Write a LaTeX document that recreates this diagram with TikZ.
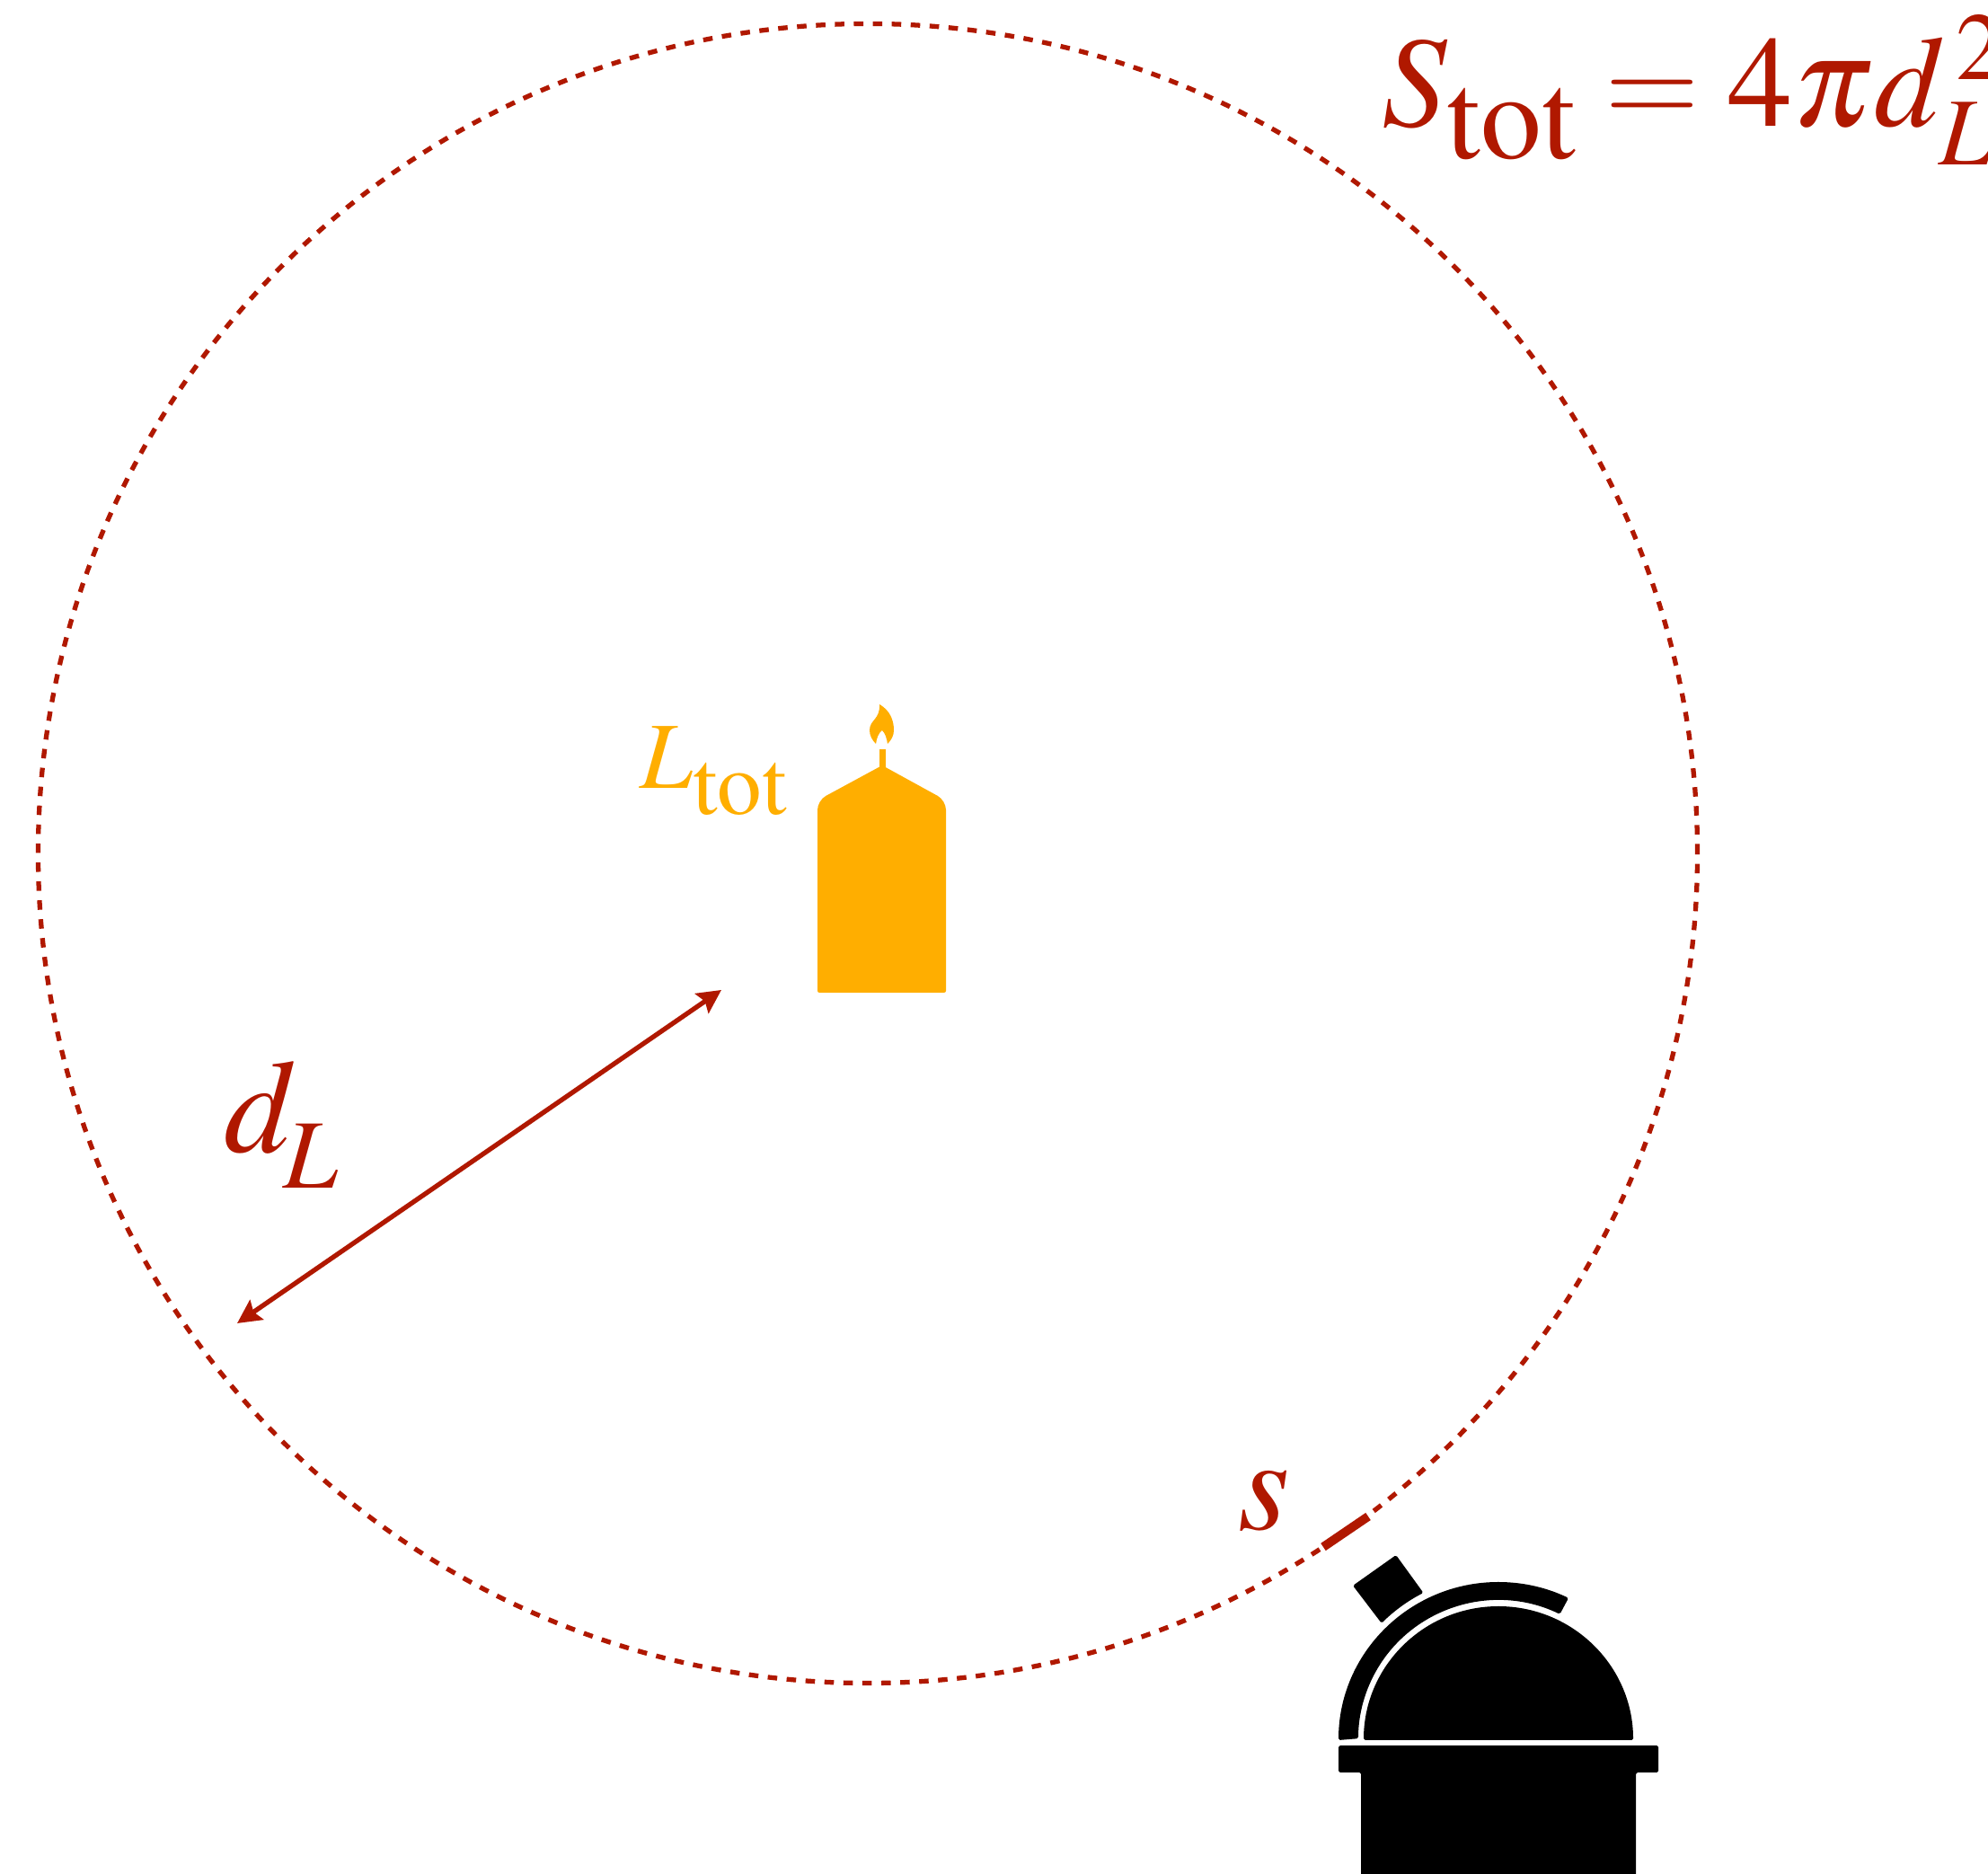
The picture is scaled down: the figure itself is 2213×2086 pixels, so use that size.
\documentclass[tikz,border=0pt]{standalone}
\usepackage{amsmath}
\usepackage{graphicx}
\usepackage{mathptmx}
\usepackage{tikz}
\usetikzlibrary{positioning}
\usetikzlibrary{calc,arrows.meta}
\definecolor{fluxred}{HTML}{B01800}
\definecolor{candleorange}{HTML}{FFAE00}
\newcommand{\lowered}[2]{\raisebox{-#1}{$\scriptstyle #2$}}
\newcommand{\tot}{\scalebox{0.94}{$\mathrm{tot}$}}
\tikzset{
	sphere/.style = {circle, draw=fluxred, dash pattern=on 3pt off 3pt, line width=1.5pt,
		inner sep=0pt, minimum size=18.46cm},
	label/.style = {anchor=base west, inner sep=0pt, text=fluxred},
	black part/.style = {fill=black, rounded corners=0.5pt},
	candle part/.style = {fill=candleorange},
}

\begin{document}
\begin{tikzpicture}[x=0.01cm, y=0.01cm]
	\useasboundingbox (0,0) rectangle (2213,2086);

	\node (sphere) [sphere] at (966,1136) {};
	\coordinate (rim) at (264,613);
	\coordinate (mid) at (803,984);
	\draw[{Stealth[length=7.5pt,width=7.5pt,inset=1.2pt]}-{Stealth[length=7.5pt,width=7.5pt,inset=1.2pt]}, fluxred, line width=1.5pt] (rim) -- (mid);
	\coordinate (patcha) at (1473,364);
	\coordinate (patchb) at (1523,398);
	\draw[fluxred, line width=2.8pt] (patcha) -- (patchb);

	\node (flux) [label, font=\fontsize{41}{41}\selectfont] at (1538,1945)
		{$S_{\lowered{4pt}{\tot}}\mathrel{\text{\bfseries =}}4\pi\!\,d^{\,2}_{\lowered{2pt}{L}}$};
	\node (dist) [label, font=\fontsize{42}{42}\selectfont] at (249,803) {$d_{\kern-2.4pt\lowered{4.8pt}{L}}$};
	\node (area) [label, font=\fontsize{42}{42}\selectfont] at (1378,383) {$s$};
	\node (lum) [label, text=candleorange, font=\fontsize{30}{30}\selectfont] at (712,1208) {$L_{\lowered{3.5pt}{\tot}}$};

	% candle
	\fill[candle part] (910,984) [rounded corners=0.6pt] -- (910,981) -- (1053,981) [rounded corners=3pt] -- (1053,1195)
		[sharp corners] -- (982,1234) [rounded corners=3pt] -- (910,1195) [sharp corners] -- cycle;
	\fill[candle part] (978.5,1232) rectangle (985.5,1252);
	\fill[candle part] (979,1302) .. controls (991,1295) and (995,1284) .. (995,1273)
		.. controls (995,1267) and (992,1262) .. (988,1258)
		.. controls (987,1265) and (985,1270) .. (982,1273)
		.. controls (978,1270) and (976,1265) .. (975,1258)
		.. controls (971,1262) and (968,1267) .. (968,1273)
		.. controls (968,1285) and (980,1285) .. (979,1302) -- cycle;

	% observatory
	\coordinate (dome) at (1668,149);
	\fill[black part] (1518,149) arc [start angle=180, end angle=0, x radius=150, y radius=149] -- cycle;
	\fill[black part] ([shift={(180:178)}]dome) arc [start angle=180, end angle=64, x radius=178, y radius=176]
		-- ([shift={(64:156)}]dome) arc [start angle=64, end angle=180, x radius=156, y radius=154] -- cycle;
	\fill[black part] (1506,321) -- (1554,355) -- ([shift={(117:184)}]dome)
		arc [start angle=117, end angle=135, radius=184] -- cycle;
	\fill[black part] (1490,143) -- (1846,143) -- (1846,113) -- (1821,113) -- (1821,-5)
		-- (1515,-5) -- (1515,113) -- (1490,113) -- cycle;
\end{tikzpicture}
\end{document}
